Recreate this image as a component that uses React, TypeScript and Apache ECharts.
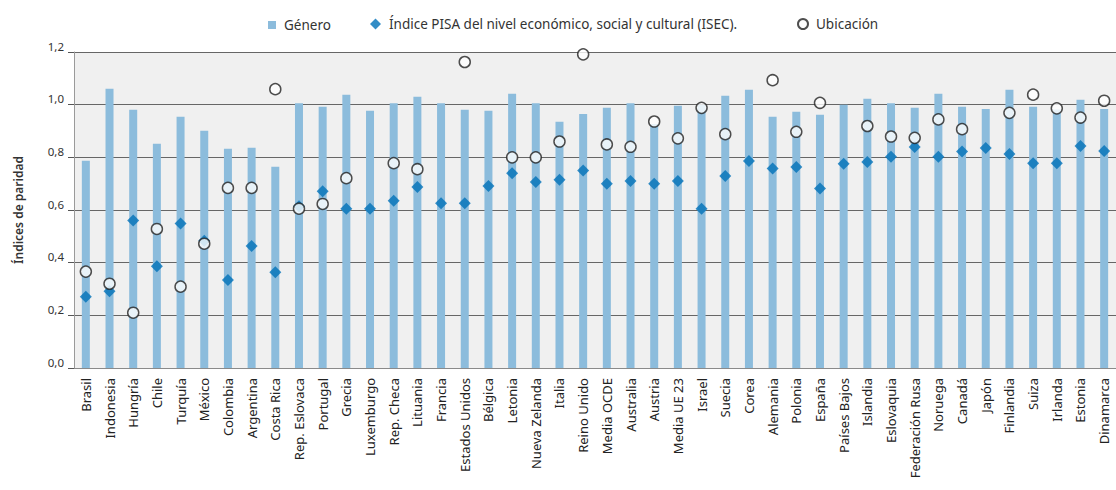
import React, { useEffect, useRef } from "react";
import * as echarts from "echarts";

const categories = [
  "Brasil", "Indonesia", "Hungría", "Chile", "Turquía", "México", "Colombia", "Argentina", "Costa Rica",
  "Rep. Eslovaca", "Portugal", "Grecia", "Luxemburgo", "Rep. Checa", "Lituania", "Francia", "Estados Unidos",
  "Bélgica", "Letonia", "Nueva Zelanda", "Italia", "Reino Unido", "Media OCDE", "Australia", "Austria",
  "Media UE 23", "Israel", "Suecia", "Corea", "Alemania", "Polonia", "España", "Países Bajos", "Islandia",
  "Eslovaquia", "Federación Rusa", "Noruega", "Canadá", "Japón", "Finlandia", "Suiza", "Irlanda", "Estonia",
  "Dinamarca",
];

const genero = [
  0.787, 1.06, 0.981, 0.852, 0.954, 0.901, 0.833, 0.836, 0.764,
  1.005, 0.992, 1.038, 0.977, 1.005, 1.03, 1.005, 0.981,
  0.977, 1.041, 1.005, 0.935, 0.965, 0.988, 1.005, 0.927,
  0.996, 1.0, 1.034, 1.057, 0.954, 0.973, 0.962, 1.0, 1.022,
  1.005, 0.988, 1.041, 0.992, 0.984, 1.057, 0.992, 0.982, 1.019,
  0.984,
];

const isec = [
  0.271, 0.291, 0.56, 0.386, 0.549, 0.483, 0.334, 0.463, 0.364,
  0.614, 0.671, 0.605, 0.605, 0.635, 0.687, 0.626, 0.626,
  0.691, 0.74, 0.706, 0.715, 0.75, 0.7, 0.71, 0.7,
  0.71, 0.605, 0.729, 0.786, 0.758, 0.763, 0.682, 0.776, 0.782,
  0.802, 0.839, 0.802, 0.822, 0.835, 0.813, 0.778, 0.778, 0.843,
  0.824,
];

const ubicacion = [
  0.366, 0.32, 0.21, 0.528, 0.309, 0.472, 0.684, 0.684, 1.059,
  0.605, 0.623, 0.721, null, 0.778, 0.755, null, 1.162,
  null, 0.8, 0.8, 0.86, 1.191, 0.849, 0.84, 0.936,
  0.872, 0.988, 0.888, null, 1.093, 0.897, 1.007, null, 0.919,
  0.879, 0.874, 0.944, 0.907, null, 0.969, 1.038, 0.986, 0.951,
  1.015,
];

const yTicks = [0, 0.2, 0.4, 0.6, 0.8, 1.0, 1.2];

const FONT = "Noto Sans";

export default function App() {
  const ref = useRef<HTMLDivElement>(null);
  useEffect(() => {
    if (!ref.current) return;
    const chart = echarts.init(ref.current, null, { renderer: "svg" });
    const legendText = { fontFamily: FONT, fontSize: 13.5, color: "#333", padding: [0, 0, 0, 3] };
    chart.setOption({
      animation: false,
      textStyle: { fontFamily: FONT },
      legend: [
        {
          left: 263, top: 13, itemWidth: 8, itemHeight: 8,
          data: [{ name: "Género", icon: "rect" }], textStyle: legendText,
        },
        {
          left: 365, top: 12, itemWidth: 11, itemHeight: 11,
          data: [{ name: "Índice PISA del nivel económico, social y cultural (ISEC).", icon: "diamond" }],
          textStyle: legendText,
        },
        {
          left: 792, top: 12, itemWidth: 10, itemHeight: 10,
          data: [{ name: "Ubicación", icon: "circle" }], textStyle: legendText,
        },
      ],
      grid: {
        left: 74, top: 52, width: 1045, height: 316,
        show: true, backgroundColor: "#f0f0f0", borderWidth: 0,
      },
      xAxis: {
        type: "category",
        data: categories,
        axisLine: { show: true, lineStyle: { color: "#8a8a8a", width: 1 } },
        axisTick: { show: false },
        axisLabel: {
          rotate: 90, margin: 10, interval: 0, fontSize: 13, color: "#222", fontFamily: FONT,
        },
      },
      yAxis: {
        type: "value",
        min: 0, max: 1.2, interval: 0.2,
        name: "Índices de paridad",
        nameLocation: "middle",
        nameGap: 50,
        nameTextStyle: { fontSize: 12, color: "#333", fontWeight: 600, fontFamily: FONT },
        axisLine: { show: true, lineStyle: { color: "#9a9a9a", width: 1 } },
        axisTick: { show: true, length: 6, lineStyle: { color: "#555", width: 1 } },
        splitLine: { show: true, lineStyle: { color: "#666", width: 1 } },
        axisLabel: {
          fontSize: 11.5, color: "#333", fontFamily: FONT, margin: 10, verticalAlign: "bottom",
          formatter: (v: number) => {
            const t = yTicks.find((x) => Math.abs(x - v) < 1e-6);
            return (t ?? v).toFixed(1).replace(".", ",");
          },
        },
      },
      series: [
        {
          name: "Género",
          type: "bar",
          data: genero,
          barWidth: 8,
          itemStyle: { color: "#8cbcdc" },
          z: 2,
        },
        {
          name: "Índice PISA del nivel económico, social y cultural (ISEC).",
          type: "scatter",
          data: isec,
          symbol: "diamond",
          symbolSize: 12,
          itemStyle: { color: "#0070b8" },
          z: 3,
        },
        {
          name: "Ubicación",
          type: "scatter",
          data: ubicacion,
          symbol: "circle",
          symbolSize: 11,
          itemStyle: { color: "#ffffff", borderColor: "#222", borderWidth: 1.5 },
          z: 4,
        },
      ],
    });
    return () => chart.dispose();
  }, []);
  return (
    <div
      ref={ref}
      style={{ position: "absolute", left: 0, top: 0, width: 1116, height: 490 }}
    />
  );
}
